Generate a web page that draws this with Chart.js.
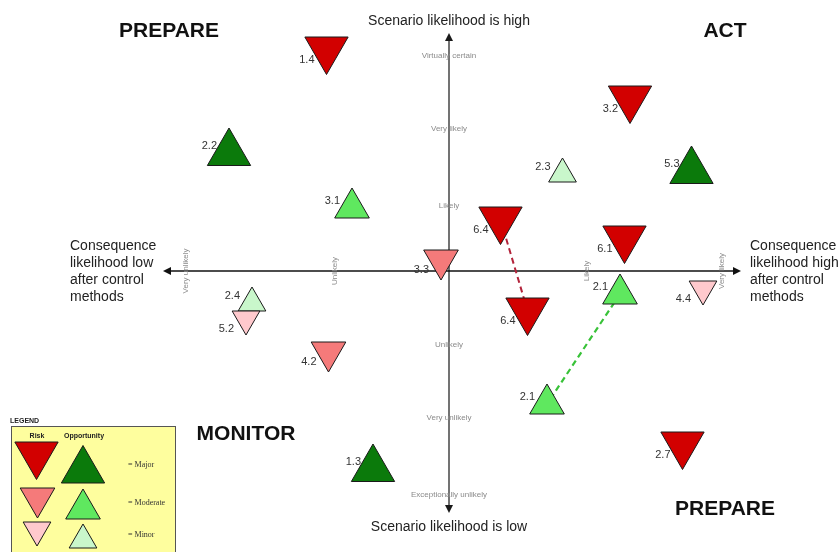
<!DOCTYPE html>
<html>
<head>
<meta charset="utf-8">
<script src="https://cdn.jsdelivr.net/npm/chart.js@4/dist/chart.umd.min.js"></script>
<style>
html,body{margin:0;padding:0;background:#fff;}
#wrap{width:838px;height:552px;position:relative;}
</style>
</head>
<body>
<div id="wrap"><canvas id="c" width="838" height="552"></canvas></div>
<script>
// ---- DATA (x: consequence likelihood, y: scenario likelihood; axis cross at 0,0) ----
const majorRiskIds = ['1.4', '3.2', '6.4', '6.1', '6.4', '2.7'];
const majorRiskX   = [-12.25, 18.1, 5.15, 17.55, 7.85, 23.35];
const majorRiskY   = [22.15, 17.25, 5.15, 3.25, -3.95, -17.35];

const moderateRiskIds = ['3.3', '4.2'];
const moderateRiskX   = [-0.8, -12.05];
const moderateRiskY   = [1.1, -8.1];

const minorRiskIds = ['5.2', '4.4'];
const minorRiskX   = [-20.3, 25.4];
const minorRiskY   = [-4.8, -1.8];

const majorOppIds = ['2.2', '5.3', '1.3'];
const majorOppX   = [-22.0, 24.25, -7.6];
const majorOppY   = [11.8, 10.0, -19.8];

const moderateOppIds = ['3.1', '2.1', '2.1'];
const moderateOppX   = [-9.7, 17.1, 9.8];
const moderateOppY   = [6.3, -2.3, -13.3];

const minorOppIds = ['2.3', '2.4'];
const minorOppX   = [11.35, -19.7];
const minorOppY   = [9.7, -3.2];

// movement links (risk 6.4 and opportunity 2.1)
const link64X = [5.15, 7.85];
const link64Y = [5.15, -3.95];
const link21X = [17.1, 9.8];
const link21Y = [-2.3, -13.3];

// axis tick labels
const vTickLabels = ['Virtually certain', 'Very likely', 'Likely', 'Unlikely', 'Very unlikely', 'Exceptionally unlikely'];
const vTickValues = [21.5, 14.2, 6.5, -7.4, -14.7, -22.4];
const hTickLabels = ['Very unlikely', 'Unlikely', 'Likely', 'Very likely'];
const hTickValues = [-26.3, -11.4, 13.8, 27.3];

const legendRows = ['= Major', '= Moderate', '= Minor'];

// ---- build datasets ----
function pts(xs, ys) { return xs.map((x, i) => ({ x: x, y: ys[i] })); }

const COLORS = {
  majorRisk: '#D20000', moderateRisk: '#F57A7A', minorRisk: '#FFC9CD',
  majorOpp: '#0B7A0B', moderateOpp: '#5FE85F', minorOpp: '#C9F7CB'
};
const SIZES = { major: 25, moderate: 20, minor: 16 };

function triSet(xs, ys, ids, color, r, down) {
  return {
    data: pts(xs, ys), ids: ids, kind: down ? 'risk' : 'opp',
    pointStyle: 'triangle', pointRadius: r, pointHoverRadius: r,
    pointRotation: down ? 180 : 0,
    backgroundColor: color, borderColor: '#1a1a1a', borderWidth: 1,
    pointBorderWidth: 1, showLine: false, order: 0, clip: false
  };
}

const datasets = [
  triSet(majorRiskX, majorRiskY, majorRiskIds, COLORS.majorRisk, SIZES.major, true),
  triSet(moderateRiskX, moderateRiskY, moderateRiskIds, COLORS.moderateRisk, SIZES.moderate, true),
  triSet(minorRiskX, minorRiskY, minorRiskIds, COLORS.minorRisk, SIZES.minor, true),
  triSet(majorOppX, majorOppY, majorOppIds, COLORS.majorOpp, SIZES.major, false),
  triSet(moderateOppX, moderateOppY, moderateOppIds, COLORS.moderateOpp, SIZES.moderate, false),
  triSet(minorOppX, minorOppY, minorOppIds, COLORS.minorOpp, SIZES.minor, false),
  { data: pts(link64X, link64Y), showLine: true, pointRadius: 0, borderColor: '#B3233A',
    borderWidth: 2, borderDash: [6, 4], order: 10, clip: false, isLink: true },
  { data: pts(link21X, link21Y), showLine: true, pointRadius: 0, borderColor: '#38C238',
    borderWidth: 2.2, borderDash: [6, 4], order: 10, clip: false, isLink: true }
];

// ---- drawing helpers ----
function tri(ctx, x, y, r, down, fill) {
  const s = Math.sin(Math.PI / 3) * r;
  ctx.beginPath();
  if (down) {
    ctx.moveTo(x, y + r); ctx.lineTo(x - s, y - r / 2); ctx.lineTo(x + s, y - r / 2);
  } else {
    ctx.moveTo(x, y - r); ctx.lineTo(x + s, y + r / 2); ctx.lineTo(x - s, y + r / 2);
  }
  ctx.closePath();
  ctx.fillStyle = fill; ctx.fill();
  ctx.lineWidth = 1; ctx.strokeStyle = '#1a1a1a'; ctx.stroke();
}

function arrowHead(ctx, x, y, dir) {
  const L = 8, W = 4;
  ctx.beginPath();
  if (dir === 'up') { ctx.moveTo(x, y); ctx.lineTo(x - W, y + L); ctx.lineTo(x + W, y + L); }
  if (dir === 'down') { ctx.moveTo(x, y); ctx.lineTo(x - W, y - L); ctx.lineTo(x + W, y - L); }
  if (dir === 'left') { ctx.moveTo(x, y); ctx.lineTo(x + L, y - W); ctx.lineTo(x + L, y + W); }
  if (dir === 'right') { ctx.moveTo(x, y); ctx.lineTo(x - L, y - W); ctx.lineTo(x - L, y + W); }
  ctx.closePath(); ctx.fill();
}

const decor = {
  id: 'decor',
  beforeDatasetsDraw(chart) {
    const ctx = chart.ctx, sx = chart.scales.x, sy = chart.scales.y;
    const cx = sx.getPixelForValue(0), cy = sy.getPixelForValue(0);
    ctx.save();
    // vertical axis
    const top = sy.getPixelForValue(23.8), bot = sy.getPixelForValue(-24.2);
    ctx.strokeStyle = '#444'; ctx.fillStyle = '#1a1a1a'; ctx.lineWidth = 1.5;
    ctx.beginPath(); ctx.moveTo(cx, top + 4); ctx.lineTo(cx, bot - 4); ctx.stroke();
    arrowHead(ctx, cx, top, 'up'); arrowHead(ctx, cx, bot, 'down');
    // horizontal axis
    const lft = sx.getPixelForValue(-28.6), rgt = sx.getPixelForValue(29.2);
    ctx.strokeStyle = '#111';
    ctx.beginPath(); ctx.moveTo(lft + 4, cy); ctx.lineTo(rgt - 4, cy); ctx.stroke();
    ctx.fillStyle = '#111';
    arrowHead(ctx, lft, cy, 'left'); arrowHead(ctx, rgt, cy, 'right');

    // tick labels
    ctx.fillStyle = '#8a8a8a';
    ctx.font = '8px "Liberation Sans", Arial, sans-serif';
    ctx.textAlign = 'center'; ctx.textBaseline = 'middle';
    vTickLabels.forEach((t, i) => ctx.fillText(t, cx, sy.getPixelForValue(vTickValues[i])));
    hTickLabels.forEach((t, i) => {
      ctx.save();
      ctx.translate(sx.getPixelForValue(hTickValues[i]), cy);
      ctx.rotate(-Math.PI / 2);
      ctx.fillText(t, 0, 0);
      ctx.restore();
    });

    // axis titles
    ctx.fillStyle = '#222';
    ctx.font = '14px "Liberation Sans", Arial, sans-serif';
    ctx.textAlign = 'center';
    ctx.fillText('Scenario likelihood is high', cx, 21);
    ctx.fillText('Scenario likelihood is low', cx, 527);
    ctx.textAlign = 'left';
    ['Consequence', 'likelihood low', 'after control', 'methods'].forEach((t, i) => ctx.fillText(t, 70, 246 + i * 17));
    ['Consequence', 'likelihood high', 'after control', 'methods'].forEach((t, i) => ctx.fillText(t, 750, 246 + i * 17));

    // quadrant titles
    ctx.fillStyle = '#111';
    ctx.font = 'bold 21px "Liberation Sans", Arial, sans-serif';
    ctx.textAlign = 'center';
    ctx.fillText('PREPARE', 169, 31);
    ctx.fillText('ACT', 725, 31);
    ctx.fillText('MONITOR', 246, 434);
    ctx.fillText('PREPARE', 725, 509);

    // legend
    ctx.fillStyle = '#FEFE9E';
    ctx.fillRect(11, 426, 165, 130);
    ctx.strokeStyle = '#555'; ctx.lineWidth = 1;
    ctx.strokeRect(11.5, 426.5, 164, 130);
    ctx.fillStyle = '#222';
    ctx.font = 'bold 7px "Liberation Sans", Arial, sans-serif';
    ctx.textAlign = 'left';
    ctx.fillText('LEGEND', 10, 421);
    ctx.textAlign = 'center';
    ctx.fillText('Risk', 37, 436);
    ctx.fillText('Opportunity', 84, 436);
    tri(ctx, 36.5, 454.5, 25, true, COLORS.majorRisk);
    tri(ctx, 83, 470.5, 25, false, COLORS.majorOpp);
    tri(ctx, 37.5, 498, 20, true, COLORS.moderateRisk);
    tri(ctx, 83, 509, 20, false, COLORS.moderateOpp);
    tri(ctx, 37, 530, 16, true, COLORS.minorRisk);
    tri(ctx, 83, 540, 16, false, COLORS.minorOpp);
    ctx.fillStyle = '#333';
    ctx.font = '8px "Liberation Serif", "Times New Roman", serif';
    ctx.textAlign = 'left';
    legendRows.forEach((t, i) => ctx.fillText(t, 128, [465, 503, 535][i]));
    ctx.restore();
  },
  afterDatasetsDraw(chart) {
    const ctx = chart.ctx;
    ctx.save();
    ctx.fillStyle = '#333';
    ctx.font = '11px "Liberation Sans", Arial, sans-serif';
    ctx.textAlign = 'right'; ctx.textBaseline = 'middle';
    chart.data.datasets.forEach((ds, di) => {
      if (!ds.ids) return;
      const meta = chart.getDatasetMeta(di);
      meta.data.forEach((el, i) => {
        const dy = ds.kind === 'risk' ? 10 : -7;
        ctx.fillText(ds.ids[i], el.x - 12, el.y + dy);
      });
    });
    ctx.restore();
  }
};

new Chart(document.getElementById('c'), {
  type: 'scatter',
  data: { datasets: datasets },
  options: {
    responsive: false, animation: false,
    layout: { padding: 0, autoPadding: false },
    plugins: { legend: { display: false }, tooltip: { enabled: false } },
    events: [],
    scales: {
      x: { type: 'linear', display: false, min: -44.9, max: 38.9 },
      y: { type: 'linear', display: false, min: -28.1, max: 27.1 }
    }
  },
  plugins: [decor]
});
</script>
</body>
</html>
